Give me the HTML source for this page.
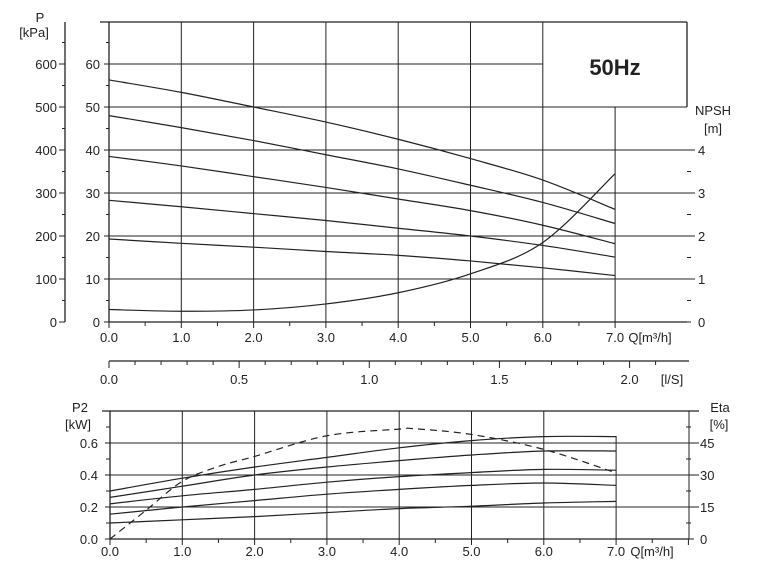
<!DOCTYPE html>
<html><head><meta charset="utf-8"><style>
body{margin:0;background:#fff;overflow:hidden}
svg{display:block;font-family:"Liberation Sans",sans-serif;font-size:13px;fill:#222}
</style></head><body>
<svg id="c" width="758" height="580" viewBox="0 0 758 580">
<g id="top"></g>
<g id="bot"></g>
</svg>
<script>
const flows=[0,1,2,3,4,5,6,7];
const headCurves=[
[56.3,53.4,50,46.5,42.5,38,33,26.2],
[48,45.2,42.2,38.9,35.6,31.8,27.8,22.9],
[38.5,36.3,33.8,31.3,28.6,25.9,22.5,18.2],
[28.3,26.8,25.2,23.6,21.8,20,17.8,15.1],
[19.3,18.3,17.4,16.4,15.5,14.2,12.6,10.8]];
const npsh=[0.29,0.25,0.28,0.42,0.68,1.12,1.85,3.45];
const powerCurves=[
[0.30,0.38,0.45,0.51,0.57,0.615,0.64,0.64],
[0.26,0.33,0.40,0.45,0.49,0.525,0.55,0.55],
[0.22,0.27,0.31,0.355,0.39,0.415,0.435,0.43],
[0.155,0.20,0.24,0.28,0.31,0.335,0.35,0.335],
[0.10,0.12,0.14,0.165,0.19,0.205,0.225,0.235]];
const etaFlows=[0,0.5,1,1.5,2,3,4,4.2,5,6,7];
const eta=[0,13.5,27,34,38.7,48.4,51.5,51.7,49,42,31];
const qTicks=["0.0","1.0","2.0","3.0","4.0","5.0","6.0","7.0"];
const lsTicks=["0.0","0.5","1.0","1.5","2.0"];
const kpaTicks=[0,100,200,300,400,500,600];
const headTicks=[0,10,20,30,40,50,60];
const npshTicks=[0,1,2,3,4];
const p2Ticks=["0.0","0.2","0.4","0.6"];
const etaTicks=[0,15,30,45];

const NS="http://www.w3.org/2000/svg";
function el(p,t,a,txt){const e=document.createElementNS(NS,t);for(const k in a)e.setAttribute(k,a[k]);if(txt!==undefined)e.textContent=txt;p.appendChild(e);return e;}
function ln(p,x1,y1,x2,y2,w){return el(p,'line',{x1,y1,x2,y2,stroke:'#222','stroke-width':w||1});}
function tx(p,x,y,s,anc,extra){const a={x,y,'text-anchor':anc||'middle'};Object.assign(a,extra||{});return el(p,'text',a,s);}
function path(xs,ys){let d='M'+xs[0]+','+ys[0];for(let i=0;i<xs.length-1;i++){const x0=xs[Math.max(i-1,0)],y0=ys[Math.max(i-1,0)],x3=xs[Math.min(i+2,xs.length-1)],y3=ys[Math.min(i+2,xs.length-1)];d+=' C'+(xs[i]+(xs[i+1]-x0)/6)+','+(ys[i]+(ys[i+1]-y0)/6)+' '+(xs[i+1]-(x3-xs[i])/6)+','+(ys[i+1]-(y3-ys[i])/6)+' '+xs[i+1]+','+ys[i+1];}return d;}

// ---- top chart
const T=document.getElementById('top');
const X=q=>109+72.3*q;
const YH=h=>322-4.3*h;
const YN=n=>322-43*n;
ln(T,100,22,687,22,1.3);
ln(T,687,22,687,107,1.3);
for(let i=0;i<=6;i++){const l=ln(T,X(i),22,X(i),322,i==0?1.3:1);}
ln(T,X(7),107,X(7),322,1);
headTicks.forEach(h=>{
  if(h===0)return;
  const xe=h===60?X(6):(h===50?687:695);
  const l=ln(T,X(0),YH(h),xe,YH(h),1.1);
  
  
});
ln(T,X(0),322,687,322,1.3);
for(let i=0;i<=14;i++){ln(T,X(i/2),322,X(i/2),i%2?326:328,1);}
headTicks.forEach(h=>{ln(T,104,YH(h),X(0),YH(h),1);const t=tx(T,100,YH(h)+5,String(h),'end');});
for(let h=5;h<70;h+=10)ln(T,106,YH(h),X(0),YH(h),1);
ln(T,65,22,65,322,1.3);
kpaTicks.forEach(k=>{ln(T,59,YH(k/10),65,YH(k/10),1);const t=tx(T,57,YH(k/10)+5,String(k),'end');});
for(let k=50;k<700;k+=100)ln(T,62,YH(k/10),65,YH(k/10),1);
ln(T,62,YH(65),65,YH(65),1);
tx(T,40,22,'P','middle');
tx(T,34,37,'[kPa]','middle');
npshTicks.forEach(n=>{ln(T,687,YN(n),691,YN(n),1);const t=tx(T,698,YN(n)+5,String(n),'start');});
for(let n=0.5;n<4;n+=1)ln(T,687,YN(n),691,YN(n),1);
tx(T,713,115,'NPSH','middle');
tx(T,713,133,'[m]','middle');
const hz=tx(T,615,75,'50Hz','middle',{'font-size':'22','font-weight':'bold'});

qTicks.forEach((s,i)=>{const t=tx(T,X(i),342,s);});
tx(T,650,342,'Q[m³/h]','middle');
headCurves.forEach((c,i)=>{
  const p=el(T,'path',{d:path(flows.map(X),c.map(YH)),fill:'none',stroke:'#222','stroke-width':1.2});
  
  
});
const np=el(T,'path',{d:path(flows.map(X),npsh.map(YN)),fill:'none',stroke:'#222','stroke-width':1.2});



// l/s axis
const YL=361;
ln(T,X(0),YL,689,YL,1.2);
for(let v=0;v<=2.2;v+=0.1){const q=v*3.6;if(X(q)>689)break;const maj=Math.abs(v*2-Math.round(v*2))<1e-6;ln(T,X(q),YL,X(q),YL+(maj?7:4),1);}
lsTicks.forEach(s=>{const t=tx(T,X(parseFloat(s)*3.6),384,s);});
tx(T,672,384,'[l/S]','middle');

// ---- bottom chart
const B=document.getElementById('bot');
const X2=q=>110+72.3*q;
const YP=p=>539-160*p;
const YE=e=>539-160*(e/75);
ln(B,102,411,699,411,1.3);
ln(B,X2(0),411,X2(0),539,1.3);
for(let i=1;i<=6;i++){const l=ln(B,X2(i),411,X2(i),539,1);}
ln(B,X2(7),436,X2(7),539,1);
[0.2,0.4,0.6].forEach(p=>ln(B,X2(0),YP(p),699,YP(p),1.1));
ln(B,X2(0),539,689,539,1.3);
for(let i=0;i<=16;i++){const q=i/2;if(X2(q)>690)break;ln(B,X2(q),539,X2(q),i%2?543:545,1);}
p2Ticks.forEach(s=>{const p=parseFloat(s);ln(B,105,YP(p),X2(0),YP(p),1);const t=tx(B,98,YP(p)+5,s,'end');});
[0.1,0.3,0.5,0.7].forEach(p=>ln(B,106,YP(p),X2(0),YP(p),1));
ln(B,689,411,689,539,1);
etaTicks.forEach(e=>{ln(B,689,YE(e),694,YE(e),1);const t=tx(B,700,YE(e)+5,String(e),'start');});
[7.5,22.5,37.5,52.5].forEach(e=>ln(B,686,YE(e),691,YE(e),1));
tx(B,80,412,'P2','middle');
tx(B,78,429,'[kW]','middle');
tx(B,720,412,'Eta','middle');
tx(B,719,429,'[%]','middle');
qTicks.forEach((s,i)=>{const t=tx(B,X2(i),556,s);});
tx(B,652,556,'Q[m³/h]','middle');
powerCurves.forEach((c,i)=>{
  const p=el(B,'path',{d:path(flows.map(X2),c.map(YP)),fill:'none',stroke:'#222','stroke-width':1.2});
  
  
});
const ep=el(B,'path',{d:path(etaFlows.map(X2),eta.map(YE)),fill:'none',stroke:'#222','stroke-width':1.2,'stroke-dasharray':'7,5'});


</script>
</body></html>
